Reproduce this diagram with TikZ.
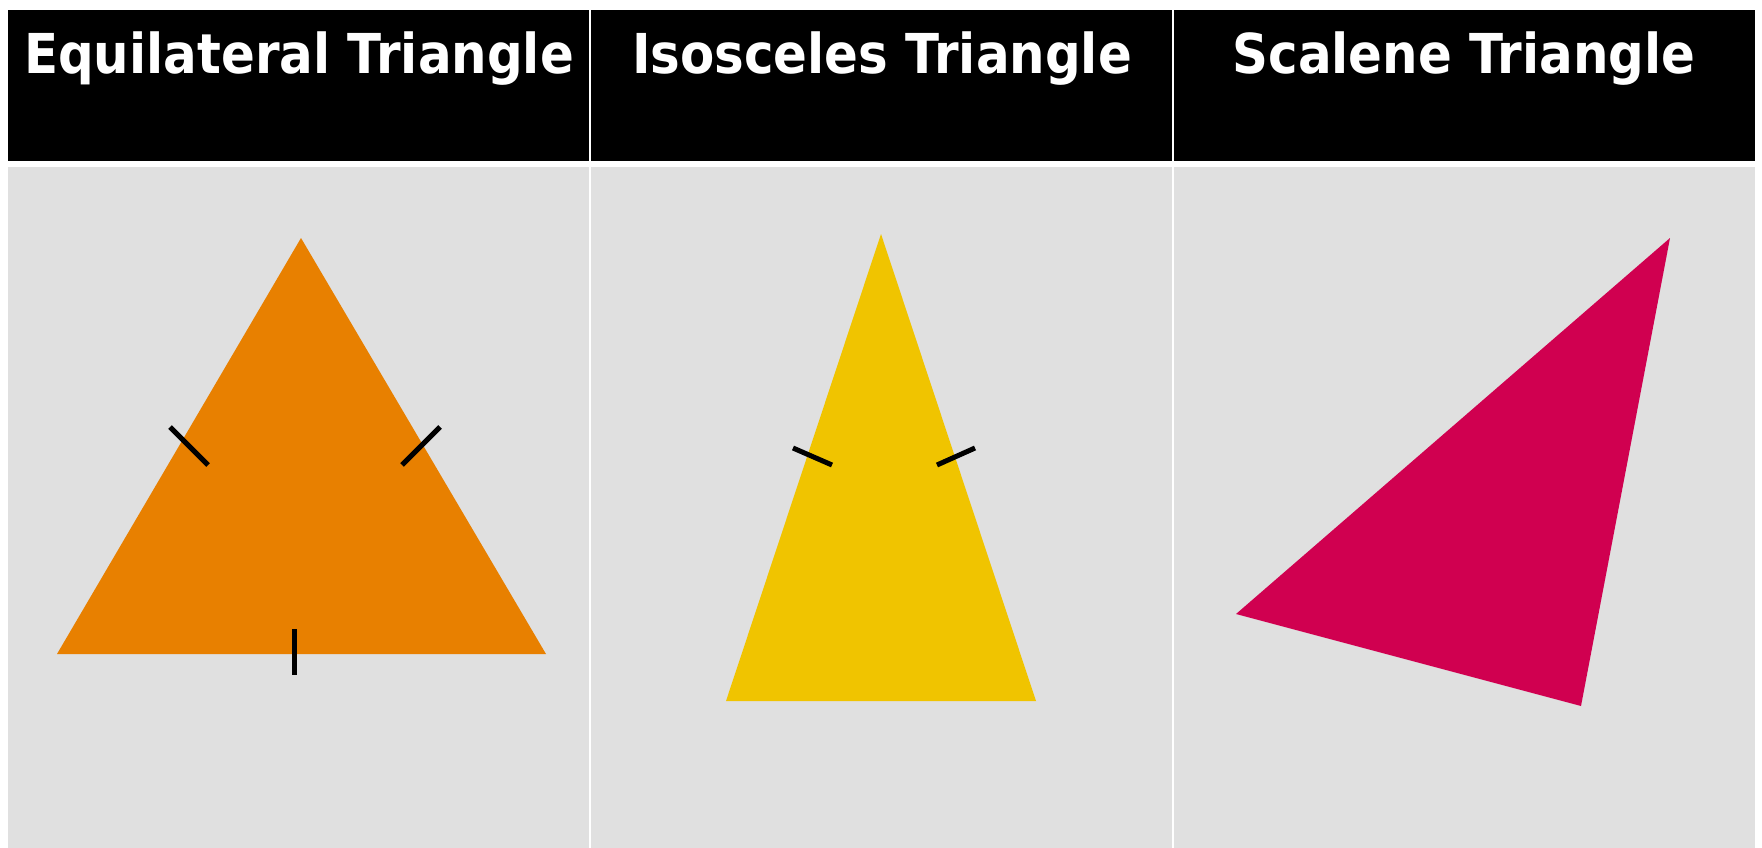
\documentclass[tikz,border=0pt]{standalone}
\usepackage{fontspec}
\setsansfont{DejaVu Sans}
\usetikzlibrary{positioning}
\definecolor{cellgray}{HTML}{E0E0E0}
\definecolor{equiorange}{HTML}{E88000}
\definecolor{isoyellow}{HTML}{F0C400}
\definecolor{scalcrimson}{HTML}{D00050}
\tikzset{
  headcell/.style={fill=black},
  bodycell/.style={fill=cellgray},
  headtitle/.style={anchor=base,text=white,inner sep=0pt,
    font=\sffamily\bfseries\fontsize{55}{60}\selectfont},
  tickmark/.style={line width=5pt,draw=black},
}

\begin{document}
\begin{tikzpicture}[x=1pt,y=-1pt]
  \useasboundingbox[fill=white] (0,0) rectangle (1762,848);

  % table cells
  \fill[headcell] (8,10)    rectangle (589,161);
  \fill[headcell] (591,10)  rectangle (1172,161);
  \fill[headcell] (1174,10) rectangle (1755,161);
  \fill[bodycell] (8,167)    rectangle (589,848);
  \fill[bodycell] (591,167)  rectangle (1172,848);
  \fill[bodycell] (1174,167) rectangle (1755,848);

  \node[headtitle] (equititle) at (299,74)  {\scalebox{0.907}[1]{Equilateral Triangle}};
  \node[headtitle] (isotitle)  at (882,74)  {\scalebox{0.907}[1]{Isosceles Triangle}};
  \node[headtitle] (scaltitle) at (1464,74) {\scalebox{0.907}[1]{Scalene Triangle}};

  % equilateral
  \coordinate (EA) at (301,238);
  \coordinate (EB) at (57,654);
  \coordinate (EC) at (546,654);
  \fill[equiorange] (EA) -- (EB) -- (EC) -- cycle;
  \draw[tickmark] (170,427) -- (208,465);
  \draw[tickmark] (402,465) -- (440,427);
  \draw[tickmark] (294,629) -- (294,675);

  % isosceles
  \coordinate (IA) at (881,234);
  \coordinate (IB) at (726,701);
  \coordinate (IC) at (1036,701);
  \fill[isoyellow] (IA) -- (IB) -- (IC) -- cycle;
  \draw[tickmark] (793,448) -- (832,465);
  \draw[tickmark] (937,465) -- (975,448);

  % scalene
  \coordinate (SA) at (1670,238);
  \coordinate (SB) at (1236,614);
  \coordinate (SC) at (1581,706);
  \fill[scalcrimson] (SA) -- (SB) -- (SC) -- cycle;
\end{tikzpicture}
\end{document}
